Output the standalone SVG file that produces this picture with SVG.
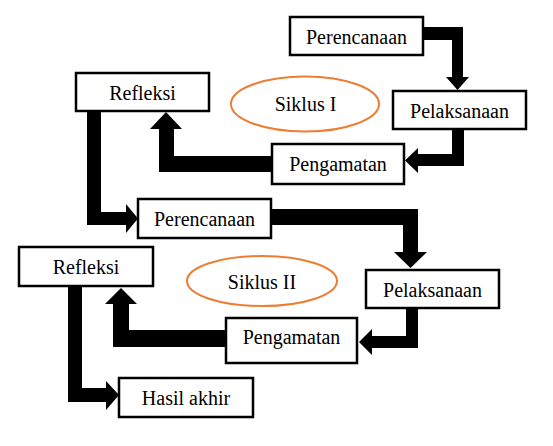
<svg xmlns="http://www.w3.org/2000/svg" width="553" height="446" viewBox="0 0 553 446">
<style>
.box{fill:#fff;stroke:#000;stroke-width:2.5}
.ell{fill:none;stroke:#ED7D31;stroke-width:2}
.arr{fill:#000;stroke:none}
</style>
<rect width="553" height="446" fill="#fff"/>
<g id="connectors">
<polygon class="arr" points="423,27 463,27 463,77 469,77 457.5,90 446,77 452,77 452,40 423,40"/>
<polygon class="arr" points="452,129 464,129 464,166 418,166 418,173 405,160.5 418,148 418,154 452,154"/>
<polygon class="arr" points="272,156 174,156 174,129 182,129 166,112 150,129 159,129 159,172 272,172"/>
<polygon class="arr" points="87,111 101,111 101,212 126,212 126,204 138,218.5 126,233 126,225 87,225"/>
<polygon class="arr" points="271,209 418,209 418,252 427,252 410.5,268 394,252 403,252 403,225 271,225"/>
<polygon class="arr" points="406,308 418,308 418,348 372,348 372,355 359,342 372,329 372,336 406,336"/>
<polygon class="arr" points="226,330 129,330 129,304 137,304 121,288 105,304 113,304 113,347 226,347"/>
<polygon class="arr" points="68,286 82,286 82,388 106,388 106,381 119,395 106,410 106,402 68,402"/>
</g>
<g id="perencanaan1"><rect class="box" x="290" y="17" width="133" height="38"/><text font-family="Liberation Serif" font-size="20" text-anchor="middle" x="356.5" y="43.5">Perencanaan</text></g>
<g id="pelaksanaan1"><rect class="box" x="393" y="91" width="133" height="38"/><text font-family="Liberation Serif" font-size="20" text-anchor="middle" x="459.5" y="117.5">Pelaksanaan</text></g>
<g id="pengamatan1"><rect class="box" x="272" y="144" width="132" height="40"/><text font-family="Liberation Serif" font-size="20" text-anchor="middle" x="338" y="171">Pengamatan</text></g>
<g id="refleksi1"><rect class="box" x="76" y="73" width="133" height="38"/><text font-family="Liberation Serif" font-size="20" text-anchor="middle" x="142.5" y="99.5">Refleksi</text></g>
<g id="siklus1"><ellipse class="ell" cx="305" cy="104" rx="74" ry="27.5"/><text font-family="Liberation Serif" font-size="20" text-anchor="middle" x="305.5" y="111">Siklus I</text></g>
<g id="perencanaan2"><rect class="box" x="138" y="199" width="133" height="39"/><text font-family="Liberation Serif" font-size="20" text-anchor="middle" x="204.5" y="226">Perencanaan</text></g>
<g id="pelaksanaan2"><rect class="box" x="366" y="270" width="133" height="38"/><text font-family="Liberation Serif" font-size="20" text-anchor="middle" x="432.5" y="296.5">Pelaksanaan</text></g>
<g id="siklus2"><ellipse class="ell" cx="262" cy="281" rx="75" ry="25"/><text font-family="Liberation Serif" font-size="20" text-anchor="middle" x="262" y="288.5">Siklus II</text></g>
<g id="pengamatan2"><rect class="box" x="226" y="318" width="131" height="45"/><text font-family="Liberation Serif" font-size="20" text-anchor="middle" x="291.5" y="344">Pengamatan</text></g>
<g id="refleksi2"><rect class="box" x="19" y="247" width="134" height="39"/><text font-family="Liberation Serif" font-size="20" text-anchor="middle" x="86" y="274">Refleksi</text></g>
<g id="hasil"><rect class="box" x="119" y="378" width="134" height="39"/><text font-family="Liberation Serif" font-size="20" text-anchor="middle" x="186" y="405">Hasil akhir</text></g>
</svg>
